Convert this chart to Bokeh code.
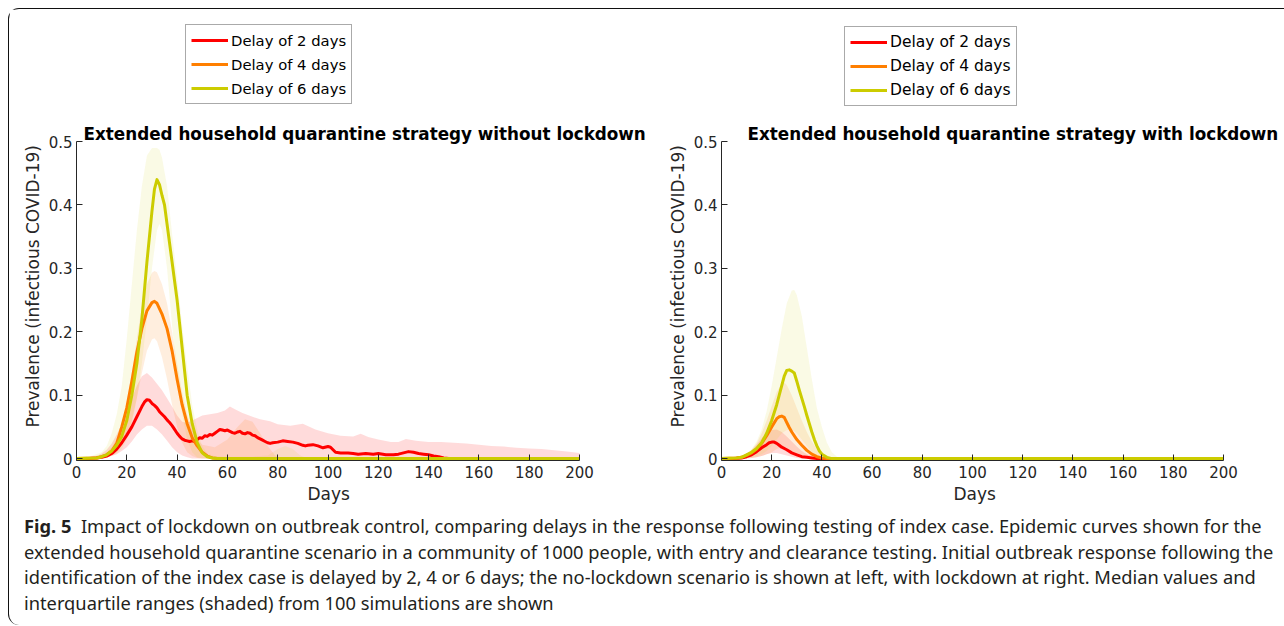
from bokeh.plotting import figure
from bokeh.models import Legend, LegendItem, FixedTicker, Div, Label, Title
from bokeh.layouts import row, column
from bokeh.embed import file_html
from bokeh.resources import INLINE

# ---------------- labels ----------------
X_TICKS = [0, 20, 40, 60, 80, 100, 120, 140, 160, 180, 200]
Y_TICKS = [0, 0.1, 0.2, 0.3, 0.4, 0.5]
Y_TICK_LABELS = ["0", "0.1", "0.2", "0.3", "0.4", "0.5"]
X_LABEL = "Days"
Y_LABEL = "Prevalence (infectious COVID-19)"
SERIES_LABELS = ["Delay of 2 days", "Delay of 4 days", "Delay of 6 days"]
TITLE_LEFT = "Extended household quarantine strategy without lockdown"
TITLE_RIGHT = "Extended household quarantine strategy with lockdown"
COLORS = ["#ff0000", "#ff7f00", "#cccc00"]
BAND_ALPHA = [0.14, 0.13, 0.10]
X_MIN, X_MAX = 0, 200
Y_MIN, Y_MAX = -0.003, 0.5

# ---------------- no lockdown (left) ----------------
NL_RED_DAYS = [0, 5, 8, 10, 12, 14, 16, 18, 20, 22, 24, 26, 27, 28, 29, 30, 31, 32, 33, 34,
               35, 36, 37, 38, 39, 40, 41, 42, 43, 44, 45, 46, 47, 48, 49,
               50, 51, 52, 53, 54, 55, 56, 57, 58, 59, 60, 61, 62, 63, 64, 65, 66, 67, 68, 69,
               70, 71, 72, 73, 74, 75, 76, 77, 78,
               80, 82, 84, 86, 88, 90, 91, 92, 94, 96, 98, 100, 101, 102, 103, 105, 108, 110, 112, 115,
               118, 120, 123, 126, 128, 130, 132, 134, 136, 138, 140, 142, 144, 146, 148, 200]
NL_RED_MED = [0, 0, 0.001, 0.002, 0.004, 0.008, 0.015, 0.025, 0.037, 0.050,
              0.066, 0.082, 0.089, 0.093, 0.092, 0.087, 0.084, 0.080, 0.074, 0.070,
              0.066, 0.061, 0.057, 0.052, 0.046, 0.040, 0.035, 0.031, 0.029, 0.028, 0.027, 0.028, 0.027, 0.030, 0.033,
              0.032, 0.036, 0.035, 0.038, 0.037, 0.040, 0.043, 0.046, 0.045, 0.044,
              0.045, 0.043, 0.041, 0.040, 0.042, 0.043, 0.040, 0.039, 0.041, 0.040,
              0.037, 0.036, 0.033, 0.031, 0.029, 0.027, 0.025, 0.024, 0.025,
              0.026, 0.028, 0.027, 0.026, 0.024, 0.021, 0.020, 0.021, 0.022, 0.020,
              0.017, 0.019, 0.018, 0.014, 0.010, 0.009, 0.009, 0.008, 0.007, 0.008,
              0.007, 0.008, 0.006, 0.006, 0.007, 0.009, 0.011, 0.010, 0.008, 0.007,
              0.006, 0.004, 0.003, 0.001, 0.0, 0.0]
NL_RED_IQR_DAYS = [0, 5, 8, 10, 12, 14, 16, 18, 20, 22, 24, 26,
                   28, 30, 32, 34, 36, 38, 40, 42, 44, 46, 48, 50,
                   53, 56, 59, 61, 63, 66, 70, 73, 77, 80,
                   85, 90, 95, 100, 105, 110, 113, 116, 120, 125,
                   128, 131, 135, 140, 145, 150, 155, 160, 165, 170,
                   175, 180, 185, 190, 195, 200]
NL_RED_Q3 = [0.001, 0.002, 0.004, 0.008, 0.014, 0.024, 0.038, 0.055, 0.075, 0.095, 0.115, 0.13,
             0.135, 0.128, 0.118, 0.108, 0.095, 0.082, 0.068, 0.058, 0.056, 0.060, 0.064, 0.068,
             0.070, 0.072, 0.076, 0.082, 0.078, 0.072, 0.066, 0.062, 0.059, 0.054,
             0.052, 0.055, 0.046, 0.040, 0.036, 0.035, 0.039, 0.034, 0.030, 0.026,
             0.026, 0.031, 0.028, 0.026, 0.026, 0.025, 0.024, 0.022, 0.020, 0.019,
             0.017, 0.016, 0.015, 0.013, 0.011, 0.009]
NL_RED_Q1 = [0, 0, 0, 0.001, 0.002, 0.004, 0.007, 0.012, 0.018, 0.027, 0.038, 0.046,
             0.052, 0.052, 0.046, 0.038, 0.028, 0.018, 0.010, 0.005, 0.002, 0, 0, 0,
             0, 0, 0, 0, 0, 0, 0, 0, 0, 0,
             0, 0, 0, 0, 0, 0, 0, 0, 0, 0,
             0, 0, 0, 0, 0, 0, 0, 0, 0, 0,
             0, 0, 0, 0, 0, 0]

NL_ORA_DAYS = [0, 8, 10, 12, 14, 16, 18, 20, 22, 24, 26, 28, 30, 31, 32, 34, 36, 38, 40, 42,
               44, 46, 48, 50, 52, 54, 56, 200]
NL_ORA_MED = [0, 0.001, 0.003, 0.006, 0.012, 0.024, 0.05, 0.08, 0.122, 0.168, 0.205, 0.233, 0.246,
              0.248, 0.245, 0.228, 0.205, 0.17, 0.125, 0.085, 0.055, 0.033, 0.02, 0.01, 0.004,
              0.001, 0, 0]
NL_ORA_IQR_DAYS = [0, 5, 10, 12, 14, 16, 18, 20, 22, 24, 26, 28, 30, 31, 32, 34, 36, 38, 40, 42,
                   44, 46, 48, 50, 55, 60, 64, 67, 70, 73, 76, 79, 82, 200]
NL_ORA_Q3 = [0.002, 0.003, 0.006, 0.010, 0.018, 0.032, 0.055, 0.09, 0.135, 0.19,
             0.24, 0.275, 0.293, 0.296, 0.294, 0.275, 0.245, 0.2, 0.15, 0.105,
             0.07, 0.045, 0.03, 0.022, 0.018, 0.03, 0.05, 0.062, 0.058, 0.04,
             0.02, 0.005, 0, 0]
NL_ORA_Q1 = [0, 0, 0.001, 0.002, 0.005, 0.010, 0.02, 0.035, 0.06, 0.095,
             0.135, 0.17, 0.188, 0.19, 0.185, 0.16, 0.125, 0.085, 0.05, 0.025,
             0.01, 0.004, 0.001, 0, 0, 0, 0, 0, 0, 0,
             0, 0, 0, 0]

NL_YEL_DAYS = [0, 8, 10, 12, 14, 16, 18, 20, 22, 24, 26, 28, 30, 31, 32, 33, 34, 35, 36, 38,
               40, 42, 44, 46, 48, 50, 52, 54, 56, 200]
NL_YEL_MED = [0, 0.001, 0.003, 0.006, 0.012, 0.021, 0.035, 0.06, 0.1, 0.15,
              0.22, 0.31, 0.39, 0.425, 0.44, 0.432, 0.415, 0.4, 0.37, 0.31,
              0.25, 0.175, 0.1, 0.055, 0.025, 0.009, 0.003, 0.001, 0, 0]
NL_YEL_IQR_DAYS = [0, 5, 10, 12, 14, 16, 18, 20, 22, 24, 26, 28, 30, 32, 33, 34, 36, 38, 40, 42,
                   44, 46, 48, 50, 52, 55, 60, 70, 76, 80, 83, 86, 89, 92, 200]
NL_YEL_Q3 = [0.002, 0.003, 0.01, 0.02, 0.04, 0.07, 0.115, 0.19, 0.275, 0.36,
             0.43, 0.478, 0.49, 0.49, 0.487, 0.475, 0.43, 0.355, 0.285, 0.21,
             0.145, 0.085, 0.045, 0.02, 0.008, 0.004, 0.003, 0.003, 0.005, 0.015,
             0.02, 0.015, 0.005, 0, 0]
NL_YEL_Q1 = [0, 0, 0.001, 0.002, 0.004, 0.008, 0.015, 0.03, 0.055, 0.095,
             0.15, 0.22, 0.3, 0.36, 0.37, 0.36, 0.3, 0.21, 0.13, 0.07,
             0.03, 0.01, 0.002, 0, 0, 0, 0, 0, 0, 0,
             0, 0, 0, 0, 0]

# ---------------- with lockdown (right) ----------------
LD_RED_DAYS = [0, 5, 8, 10, 12, 14, 16, 18, 19, 20, 21, 22, 23, 24, 26, 28, 30, 32, 34, 36, 38, 200]
LD_RED_MED = [0, 0, 0.001, 0.003, 0.006, 0.011, 0.017, 0.022, 0.025, 0.026,
              0.026, 0.024, 0.021, 0.018, 0.014, 0.009, 0.006, 0.003, 0.002, 0.001, 0, 0]
LD_RED_IQR_DAYS = [0, 8, 10, 12, 14, 16, 18, 20, 22, 24, 26, 28, 30, 32, 34, 36, 38, 40, 200]
LD_RED_Q3 = [0, 0.003, 0.007, 0.013, 0.022, 0.032, 0.04, 0.045, 0.046, 0.042,
             0.035, 0.027, 0.019, 0.012, 0.007, 0.004, 0.002, 0, 0]
LD_RED_Q1 = [0, 0, 0, 0.001, 0.002, 0.004, 0.007, 0.009, 0.009, 0.007,
             0.005, 0.003, 0.001, 0, 0, 0, 0, 0, 0]

LD_ORA_DAYS = [0, 6, 8, 10, 12, 14, 16, 18, 20, 22, 23, 24, 25, 26, 27, 28, 30, 32, 34, 36, 38, 40, 42, 200]
LD_ORA_MED = [0, 0.001, 0.002, 0.005, 0.009, 0.015, 0.024, 0.036, 0.05, 0.063,
              0.066, 0.067, 0.065, 0.057, 0.049, 0.042, 0.03, 0.021, 0.013, 0.007,
              0.003, 0.001, 0, 0]
LD_ORA_IQR_DAYS = [0, 8, 10, 12, 14, 16, 18, 20, 22, 24, 25, 26, 28, 30, 32, 34, 36, 38, 40, 42, 44, 200]
LD_ORA_Q3 = [0, 0.004, 0.008, 0.014, 0.024, 0.04, 0.06, 0.083, 0.105, 0.118,
             0.12, 0.116, 0.1, 0.08, 0.06, 0.042, 0.027, 0.015, 0.007, 0.002, 0, 0]
LD_ORA_Q1 = [0, 0, 0, 0.001, 0.002, 0.004, 0.007, 0.01, 0.015, 0.018,
             0.018, 0.017, 0.012, 0.007, 0.004, 0.002, 0, 0, 0, 0, 0, 0]

LD_YEL_DAYS = [0, 6, 8, 10, 12, 14, 16, 18, 20, 22, 24, 25, 26, 27, 28, 29, 30, 31, 32, 33,
               34, 35, 36, 37, 38, 39, 40, 42, 44, 200]
LD_YEL_MED = [0, 0.001, 0.002, 0.006, 0.01, 0.016, 0.025, 0.04, 0.06, 0.085,
              0.115, 0.13, 0.139, 0.14, 0.138, 0.135, 0.122, 0.108, 0.095, 0.082,
              0.068, 0.055, 0.042, 0.03, 0.02, 0.012, 0.007, 0.002, 0, 0]
LD_YEL_IQR_DAYS = [0, 5, 8, 10, 12, 14, 16, 18, 20, 22, 24, 26, 28, 29, 30, 32, 34, 36, 38, 40,
                   42, 44, 46, 48, 200]
LD_YEL_Q3 = [0, 0.001, 0.004, 0.008, 0.015, 0.027, 0.046, 0.075, 0.115, 0.16,
             0.205, 0.245, 0.265, 0.266, 0.258, 0.225, 0.175, 0.125, 0.08, 0.05,
             0.025, 0.01, 0.003, 0, 0]
LD_YEL_Q1 = [0, 0, 0, 0.001, 0.002, 0.004, 0.007, 0.012, 0.02, 0.03,
             0.04, 0.045, 0.045, 0.043, 0.04, 0.03, 0.02, 0.01, 0.004, 0.001,
             0, 0, 0, 0, 0]

CAPTION_LINES = [
    "Impact of lockdown on outbreak control, comparing delays in the response following testing of index case. Epidemic curves shown for the",
    "extended household quarantine scenario in a community of 1000 people, with entry and clearance testing. Initial outbreak response following the",
    "identification of the index case is delayed by 2, 4 or 6 days; the no-lockdown scenario is shown at left, with lockdown at right. Median values and",
    "interquartile ranges (shaded) from 100 simulations are shown",
]
CAPTION_LEAD = "Fig. 5"

FONT = "DejaVu Sans"
INK = "#262626"

# layout (pixels)
AXES_W = [503, 502]          # pixel width of the 0..200 day span
AXES_H = 317                 # pixel height of the 0..0.5 span
PX_PER_Y = AXES_H / 0.5
FRAME_H = 442                # frame includes room for legend and title above the axes


def make_panel(title, title_dx, meds, bands, border_left, frame_w, axes_w,
               legend_xy, legend_font_size, xlabel_dx):
    x_end = X_MIN + (X_MAX - X_MIN) * frame_w / axes_w
    y_end = Y_MIN + FRAME_H / PX_PER_Y
    p = figure(frame_width=frame_w, frame_height=FRAME_H, x_range=(X_MIN, x_end), y_range=(Y_MIN, y_end),
               min_border_left=border_left, min_border_right=0,
               min_border_top=9, min_border_bottom=51,
               toolbar_location=None, output_backend="svg")
    p.outline_line_color = None
    p.grid.visible = False
    p.background_fill_color = "white"
    p.border_fill_color = "white"

    for ax in (p.xaxis[0], p.yaxis[0]):
        ax.axis_line_color = INK
        ax.axis_line_width = 1
        ax.major_tick_line_color = INK
        ax.major_tick_in = 6
        ax.major_tick_out = 0
        ax.minor_tick_line_color = None
        ax.major_label_text_font = FONT
        ax.major_label_text_font_size = "15px"
        ax.major_label_text_color = INK

    p.xaxis.bounds = (X_MIN, X_MAX)
    p.yaxis.bounds = (Y_MIN, Y_MAX)
    p.xaxis.ticker = FixedTicker(ticks=X_TICKS)
    p.yaxis.ticker = FixedTicker(ticks=Y_TICKS)
    p.yaxis.major_label_overrides = {t: l for t, l in zip(Y_TICKS, Y_TICK_LABELS)}
    p.xaxis.major_label_standoff = 5
    p.yaxis.major_label_standoff = 4

    # axis labels, positioned along the 0..200 / 0..0.5 span rather than the whole frame
    p.add_layout(Title(text=X_LABEL, align="left", offset=xlabel_dx, standoff=3,
                       text_font=FONT, text_font_size="17px", text_font_style="normal",
                       text_color=INK), "below")
    p.add_layout(Title(text=Y_LABEL, align="left", offset=33, standoff=5,
                       text_font=FONT, text_font_size="17px", text_font_style="normal",
                       text_color=INK), "left")

    for (d, q1, q3), c, a in zip(bands, COLORS, BAND_ALPHA):
        p.varea(x=d, y1=q1, y2=q3, fill_color=c, fill_alpha=a)

    items = []
    for (d, m), c, lab in zip(meds, COLORS, SERIES_LABELS):
        r = p.line(d, m, line_color=c, line_width=3, line_join="round")
        items.append(LegendItem(label=lab, renderers=[r]))

    # title just above the axes (screen units from the frame's bottom-left)
    p.add_layout(Label(text=title, x=title_dx, y=AXES_H + 10, x_units="screen", y_units="screen",
                       text_font=FONT, text_font_size="16.8px", text_font_style="bold",
                       text_color="#000000", text_baseline="alphabetic", text_align="left"))
    leg = Legend(items=items, location=legend_xy, orientation="vertical",
                 label_text_font=FONT, label_text_font_size=legend_font_size,
                 label_text_color="#000000",
                 glyph_width=37, glyph_height=20, label_height=20, label_standoff=3,
                 spacing=4, padding=5, margin=0,
                 border_line_color="#555555", border_line_width=1,
                 background_fill_color="white", background_fill_alpha=1)
    p.add_layout(leg, "center")
    return p


p1 = make_panel(TITLE_LEFT, 7,
                [(NL_RED_DAYS, NL_RED_MED), (NL_ORA_DAYS, NL_ORA_MED), (NL_YEL_DAYS, NL_YEL_MED)],
                [(NL_RED_IQR_DAYS, NL_RED_Q1, NL_RED_Q3), (NL_ORA_IQR_DAYS, NL_ORA_Q1, NL_ORA_Q3),
                 (NL_YEL_IQR_DAYS, NL_YEL_Q1, NL_YEL_Q3)],
                67, 573, AXES_W[0], (109, 356), "14.8px", 231)
p2 = make_panel(TITLE_RIGHT, 26,
                [(LD_RED_DAYS, LD_RED_MED), (LD_ORA_DAYS, LD_ORA_MED), (LD_YEL_DAYS, LD_YEL_MED)],
                [(LD_RED_IQR_DAYS, LD_RED_Q1, LD_RED_Q3), (LD_ORA_IQR_DAYS, LD_ORA_Q1, LD_ORA_Q3),
                 (LD_YEL_IQR_DAYS, LD_YEL_Q1, LD_YEL_Q3)],
                72, 561, AXES_W[1], (123, 354), "15.5px", 232)

cap_html = (
    '<div style="font-family:\'Noto Sans\',sans-serif;font-size:18.3px;line-height:25.7px;'
    'color:#231f20;padding:0 0 0 10px;position:relative;top:-3px;white-space:nowrap;">'
    '<b>' + CAPTION_LEAD + '</b>&nbsp; ' + "<br>".join(CAPTION_LINES) + '</div>'
)
cap = Div(text=cap_html, width=1273, height=104)

layout = column(row(p1, p2), cap, margin=(8, 0, 0, 8),
                styles={"border-top": "1.5px solid #111", "border-left": "1.5px solid #111",
                        "border-top-left-radius": "11px", "border-bottom-left-radius": "11px"})

open("out.html", "w").write(file_html(layout, INLINE))
